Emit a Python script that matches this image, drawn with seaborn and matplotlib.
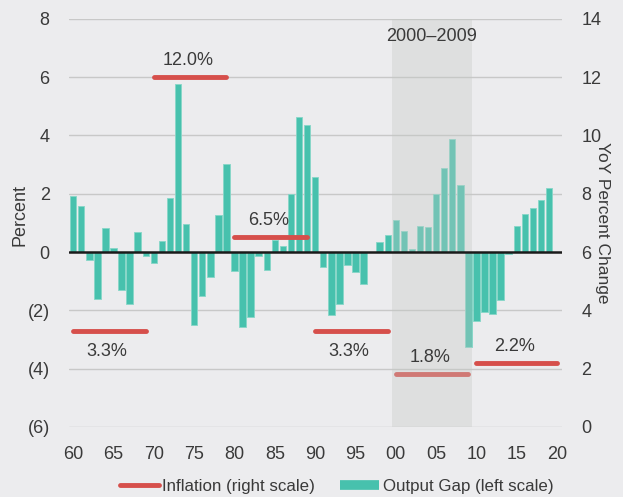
import numpy as np
import pandas as pd
import matplotlib.pyplot as plt
from matplotlib.lines import Line2D
import seaborn as sns

# output gap (percent, left scale), 1960-2019
years = list(range(1960, 2020))
output_gap = [
    1.92, 1.59, -0.27, -1.60, 0.84, 0.14, -1.30, -1.79, 0.70, -0.15,   # 60s
    -0.36, 0.39, 1.87, 5.77, 0.96, -2.52, -1.50, -0.85, 1.26, 3.02,    # 70s
    -0.66, -2.56, -2.22, -0.12, -0.62, 0.40, 0.20, 2.00, 4.63, 4.36,   # 80s
    2.59, -0.53, -2.17, -1.79, -0.46, -0.68, -1.10, 0.00, 0.35, 0.58,  # 90s
    1.09, 0.73, 0.09, 0.88, 0.85, 2.00, 2.87, 3.87, 2.30, -3.26,       # 00s
    -2.38, -2.07, -2.11, -1.63, -0.08, 0.90, 1.29, 1.52, 1.80, 2.20,   # 10s
]

# decade average inflation (YoY %, right scale)
decade_start = [1960, 1970, 1980, 1990, 2000, 2010]
decade_end = [1969, 1979, 1989, 1999, 2009, 2020]
inflation = [3.3, 12.0, 6.5, 3.3, 1.8, 2.2]
label_above = [False, True, True, False, True, True]

xtick_years = list(range(1960, 2021, 5))
xtick_labels = [f"{y % 100:02d}" for y in xtick_years]
left_ticks = [-6, -4, -2, 0, 2, 4, 6, 8]
left_labels = ["(6)", "(4)", "(2)", "0", "2", "4", "6", "8"]
right_ticks = list(range(0, 15, 2))

bg = "#ECECEE"
teal = "#47C1AD"
red = "#D64F4B"
txt = "#3A3A3A"

sns.set_style("white")
plt.rcParams["font.family"] = ["Liberation Sans", "DejaVu Sans"]
plt.rcParams["text.color"] = txt
plt.rcParams["xtick.color"] = txt
plt.rcParams["ytick.color"] = txt
plt.rcParams["axes.labelcolor"] = txt

df = pd.DataFrame({"year": years, "gap": output_gap})

fig = plt.figure(figsize=(6.23, 4.97), dpi=100, facecolor=bg)
ax = fig.add_axes([0.111, 0.141, 0.791, 0.821], facecolor=bg)

sns.barplot(data=df, x="year", y="gap", native_scale=True, width=0.8,
            color=teal, edgecolor="#86D6C8", linewidth=0.6, saturation=1,
            ax=ax, zorder=2)

ax.set_xlim(1959.5, 2020.6)
ax.set_ylim(-6, 8)
ax.set_yticks(left_ticks)
ax.set_yticklabels(left_labels)
ax.set_xticks(xtick_years)
ax.set_xticklabels(xtick_labels)
ax.tick_params(axis="both", length=0, labelsize=13, pad=14)
for t in left_ticks:
    if t != 0:
        ax.axhline(t, color="#C8C8C8", lw=1, zorder=0)
ax.set_xlabel("")
ax.set_ylabel("Percent", fontsize=13)
ax.yaxis.set_label_coords(-0.082, 0.52)
for s in ax.spines.values():
    s.set_visible(False)

ax2 = ax.twinx()
ax2.set_ylim(0, 14)
ax2.set_yticks(right_ticks)
ax2.tick_params(axis="y", length=0, labelsize=13, pad=14)
ax2.set_ylabel("YoY Percent Change", fontsize=12.5, rotation=270, labelpad=6)
for s in ax2.spines.values():
    s.set_visible(False)

for x0, x1, v, above in zip(decade_start, decade_end, inflation, label_above):
    ax2.plot([x0, x1], [v, v], color=red, lw=3.5, solid_capstyle="round", zorder=3)
    ax2.annotate(f"{v:.1f}%", xy=((x0 + x1) / 2 - 0.3, v),
                 xytext=(0, 12 if above else -15), textcoords="offset points",
                 ha="center", va="center", fontsize=13, color=txt, zorder=6)

# shaded 2000-2009 window over the bars and line
ax2.axvspan(1999.5, 2009.5, color="#C5C8C5", alpha=0.35, lw=0, zorder=4)
ax2.axhline(6, color="#1A1A1A", lw=1.8, zorder=5)
ax2.text(2004.4, 13.4, "2000\u20132009", ha="center", va="center",
         fontsize=13, color=txt, zorder=6)

handles = [Line2D([0], [0], color=red, lw=3.5, solid_capstyle="round"),
           Line2D([0], [0], color=teal, lw=7, solid_capstyle="butt")]
fig.legend(handles, ["Inflation (right scale)", "Output Gap (left scale)"],
           loc="center", bbox_to_anchor=(0.54, 0.022), ncol=2, frameon=False,
           fontsize=12.2, handlelength=2.3, handletextpad=0.2, columnspacing=1.5)

fig.savefig("out.png", dpi=100, facecolor=bg)
